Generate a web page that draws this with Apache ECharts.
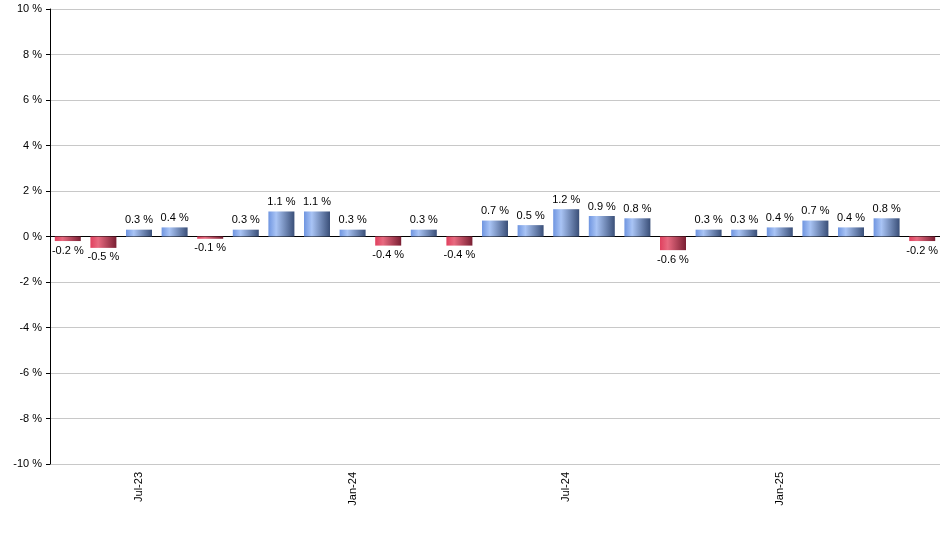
<!DOCTYPE html>
<html>
<head>
<meta charset="utf-8">
<script src="https://cdn.jsdelivr.net/npm/echarts@6/dist/echarts.min.js"></script>
<style>body{margin:0}#main{width:940px;height:550px}</style>
</head>
<body>
<div id="main"></div>
<script>
var months = ['May-23','Jun-23','Jul-23','Aug-23','Sep-23','Oct-23','Nov-23','Dec-23','Jan-24','Feb-24','Mar-24','Apr-24','May-24','Jun-24','Jul-24','Aug-24','Sep-24','Oct-24','Nov-24','Dec-24','Jan-25','Feb-25','Mar-25','Apr-25','May-25'];
var values = [-0.2,-0.5,0.3,0.4,-0.1,0.3,1.1,1.1,0.3,-0.4,0.3,-0.4,0.7,0.5,1.2,0.9,0.8,-0.6,0.3,0.3,0.4,0.7,0.4,0.8,-0.2];

var blue = new echarts.graphic.LinearGradient(0,0,1,0,[
    {offset:0,color:'#6f95e0'},{offset:0.3,color:'#a9c4f5'},{offset:1,color:'#3a4f78'}]);
var red = new echarts.graphic.LinearGradient(0,0,1,0,[
    {offset:0,color:'#e0405e'},{offset:0.3,color:'#e86a80'},{offset:1,color:'#7a1f33'}]);

var chart = echarts.init(document.getElementById('main'));
chart.setOption({
    animation:false,
    grid:{left:50,right:0,top:9,bottom:86,containLabel:false},
    xAxis:{
        type:'category',
        data:months,
        axisLine:{lineStyle:{color:'#000'}},
        axisTick:{interval:function(i){return i%6===2;},length:4,lineStyle:{color:'#000'}},
        axisLabel:{interval:function(i){return i%6===2;},rotate:90,color:'#000',fontSize:11,fontFamily:'Arial'}
    },
    yAxis:{
        type:'value',min:-10,max:10,interval:2,
        axisLine:{show:true,lineStyle:{color:'#000'}},
        axisTick:{show:true,length:4,lineStyle:{color:'#000'}},
        axisLabel:{formatter:'{value} %',color:'#000',fontSize:11,fontFamily:'Arial'},
        splitLine:{lineStyle:{color:'#c8c8c8'}}
    },
    series:[{
        type:'bar',
        barWidth:26,
        data:values.map(function(v){
            return {value:v,itemStyle:{color:v<0?red:blue},
                label:{position:v<0?'bottom':'top'}};
        }),
        label:{show:true,color:'#000',fontSize:11,fontFamily:'Arial',distance:4,
            formatter:function(p){return p.value+' %';}}
    }]
});
</script>
</body>
</html>
